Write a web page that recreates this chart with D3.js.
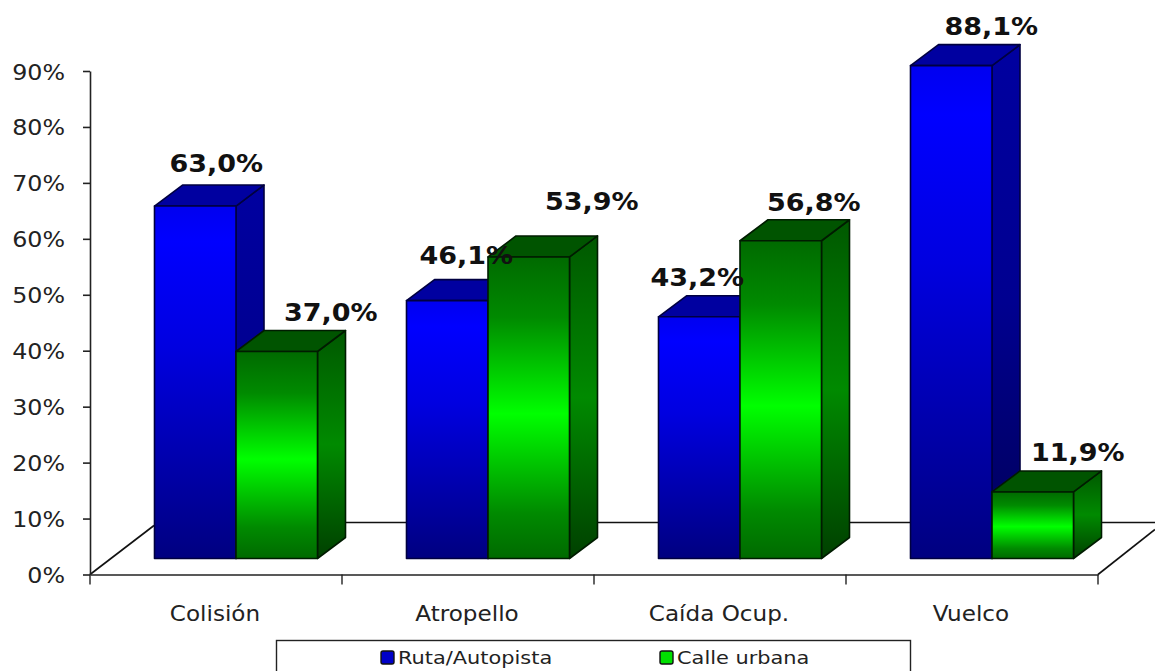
<!DOCTYPE html>
<html><head><meta charset="utf-8">
<script src="https://cdn.jsdelivr.net/npm/d3@7"></script>
<style>html,body{margin:0;padding:0;background:#fff}svg{display:block}</style>
</head><body><svg id="c" width="1155" height="671"></svg>
<script>
const categories = ["Colisión","Atropello","Caída Ocup.","Vuelco"];
const seriesNames = ["Ruta/Autopista","Calle urbana"];
const rutaValues = [63.0,46.1,43.2,88.1];
const calleValues = [37.0,53.9,56.8,11.9];
const rutaLabels = ["63,0%","46,1%","43,2%","88,1%"];
const calleLabels = ["37,0%","53,9%","56,8%","11,9%"];
const yTicks = [0,10,20,30,40,50,60,70,80,90];
// hand-placed label offsets in the original chart
const rutaNudge = [[-7,-3],[-9,-6],[-30,0],[12,0]];
const calleNudge = [[26,0],[35,-16],[5,1],[17,0]];

const W=1155,H=671, depthX=28, depthY=21, baseLift=16;
const svg=d3.select("#c");
const defs=svg.append("defs");
const FONT="'DejaVu Sans',Verdana,sans-serif";

function grad(id,stops){
  const g=defs.append("linearGradient").attr("id",id).attr("x1",0).attr("y1",0).attr("x2",0).attr("y2",1);
  stops.forEach(s=>g.append("stop").attr("offset",s[0]).attr("stop-color",s[1]));
}
grad("bf",[[0,"#0000f0"],[.1,"#0000ff"],[.4,"#0000e0"],[1,"#000080"]]);
grad("bs",[[0,"#0000a0"],[.5,"#000090"],[1,"#000058"]]);
grad("gf",[[0,"#006a00"],[.2,"#008a00"],[.52,"#00ff00"],[.85,"#008a00"],[1,"#006a00"]]);
grad("gs",[[0,"#005800"],[.5,"#008a00"],[1,"#004000"]]);
const styles=[{front:"url(#bf)",side:"url(#bs)",top:"#0000a0",edge:"#000040"},
              {front:"url(#gf)",side:"url(#gs)",top:"#005400",edge:"#001c00"}];

const y=d3.scaleLinear().domain([0,90]).range([574.5,71]);
const x=d3.scaleBand().domain(categories).range([90,1098]);
const xs=d3.scaleBand().domain(seriesNames).range([64.5,227.5]);
const h0=y(0);

// floor
const floor=svg.append("g").attr("fill","none").attr("stroke","#111").attr("stroke-width",1.6);
floor.append("path").attr("d",d3.line()([[90,h0],[154,h0-49]]));
floor.append("path").attr("d",d3.line()([[154,h0-52],[W,h0-52]]));
floor.append("path").attr("d",d3.line()([[1098,h0],[W,h0-45]]));

// axes
function styleAxis(g){
  g.selectAll("path,line").attr("stroke","#222").attr("stroke-width",1.6);
  g.selectAll("text").attr("fill","#222").attr("font-family",FONT);
}
const ya=svg.append("g").attr("transform","translate(90,0)")
  .call(d3.axisLeft(y).tickValues(yTicks).tickFormat(d=>d+"%").tickSize(7).tickSizeOuter(0));
styleAxis(ya);
ya.selectAll(".tick text").attr("font-size",22).attr("text-anchor","end")
  .attr("x",null).attr("dy",null)
  .attr("transform","translate(-25,8) scale(1.08,1)");

const xa=svg.append("g").attr("transform",`translate(0,${h0})`)
  .call(d3.axisBottom(x).tickSize(0).tickSizeOuter(0));
styleAxis(xa);
xa.selectAll(".tick text").attr("font-size",21).attr("text-anchor","middle")
  .attr("x",null).attr("y",null).attr("dy",null)
  .attr("transform","translate(-1,46) scale(1.1,1)");
xa.selectAll("line.edge").data(categories.map(c=>x(c)).concat([x.range()[1]]))
  .join("line").attr("class","edge").attr("x1",d=>d).attr("x2",d=>d).attr("y1",0).attr("y2",10)
  .attr("stroke","#222").attr("stroke-width",1.4);

// bars
const series=[rutaValues,calleValues];
categories.forEach((c,ci)=>{
  [0,1].forEach(si=>{
    const v=series[si][ci], st=styles[si];
    const l=x(c)+xs(seriesNames[si]), w=xs.bandwidth(), r=l+w;
    const t=y(v)-baseLift, b=h0-baseLift;
    const g=svg.append("g").attr("stroke",st.edge).attr("stroke-width",1.6).attr("stroke-linejoin","round");
    g.append("path").attr("fill",st.side)
      .attr("d",d3.line()([[r,t],[r+depthX,t-depthY],[r+depthX,b-depthY],[r,b]])+"Z");
    g.append("path").attr("fill",st.top)
      .attr("d",d3.line()([[l,t],[l+depthX,t-depthY],[r+depthX,t-depthY],[r,t]])+"Z");
    g.append("rect").attr("x",l).attr("y",t).attr("width",w).attr("height",b-t).attr("fill",st.front);
  });
});

// data labels
const allLabels=[rutaLabels,calleLabels], nudges=[rutaNudge,calleNudge];
categories.forEach((c,ci)=>{
  [0,1].forEach(si=>{
    const v=series[si][ci], [nx,ny]=nudges[si][ci];
    const px=x(c)+xs(seriesNames[si])+xs.bandwidth()/2+depthX+nx;
    const py=y(v)-baseLift-31+ny;
    svg.append("text").text(allLabels[si][ci])
      .attr("transform",`translate(${px},${py}) scale(1.08,1)`)
      .attr("text-anchor","middle").attr("font-family",FONT).attr("font-weight","bold")
      .attr("font-size",25).attr("fill","#111");
  });
});

// legend
const leg=svg.append("g");
leg.append("rect").attr("x",276.5).attr("y",640.5).attr("width",634).attr("height",40)
  .attr("fill","#fff").attr("stroke","#222").attr("stroke-width",1.4);
const legX=d3.scaleOrdinal().domain(seriesNames).range([381,660]);
const legFill=d3.scaleOrdinal().domain(seriesNames).range(["#0000c8","#00e000"]);
seriesNames.forEach(s=>{
  leg.append("rect").attr("x",legX(s)).attr("y",651).attr("width",13).attr("height",13).attr("rx",2)
    .attr("fill",legFill(s)).attr("stroke","#111").attr("stroke-width",1.4);
  leg.append("text").text(s).attr("transform",`translate(${legX(s)+17},663.5) scale(1.13,1)`)
    .attr("font-family",FONT).attr("font-size",18.5).attr("fill","#222");
});
</script></body></html>
